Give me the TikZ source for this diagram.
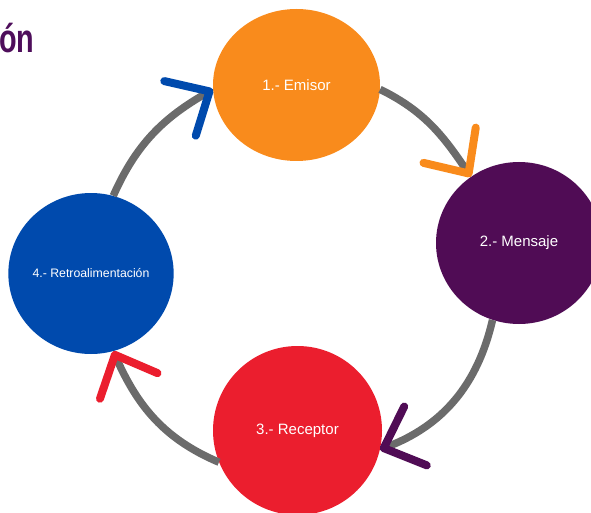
\documentclass[tikz,border=0pt]{standalone}
\usepackage{xcolor}
\usepackage{fontspec}
\setmainfont{Liberation Sans}
\usepackage{tikz}
\usetikzlibrary{arrows.meta}
\usetikzlibrary{shapes.geometric}
\usetikzlibrary{positioning}

\definecolor{emisorC}{HTML}{F98B1C}
\definecolor{mensajeC}{HTML}{500C55}
\definecolor{receptorC}{HTML}{EB1E2E}
\definecolor{retroC}{HTML}{004AAD}
\definecolor{ringC}{HTML}{6B6B6B}
\definecolor{tituloC}{HTML}{4E0E5B}

\tikzset{
  stage/.style={ellipse, draw=none, inner sep=0pt, text=white, font=\fontsize{15}{18}\selectfont},
  ring/.style={draw=ringC, line width=7.5pt},
  chev/.style={-{Straight Barb[color=#1, length=34pt, width=63pt, line width=8pt, round]}}
}

\begin{document}
\begin{tikzpicture}[x=1pt, y=1pt]
\useasboundingbox (0,0) rectangle (591,-513);
% title, cut at the left edge
\node [anchor=base west, inner sep=0pt, text=tituloC, font=\bfseries\fontsize{40}{44}\selectfont, xscale=0.72, transform shape] (titulo) at (-1,-53) {ón};
% the four stages
\node [stage, fill=emisorC, minimum width=167pt, minimum height=152pt] (E) at (296.5,-85) {1.- Emisor};
\node [stage, fill=mensajeC, minimum width=166pt, minimum height=162pt] (M) at (519,-243) {2.- Mensaje};
\node [stage, fill=receptorC, minimum width=169pt, minimum height=169pt] (R) at (297.5,-430.5) {3.- Receptor};
\node [stage, fill=retroC, minimum width=164pt, minimum height=161pt, font=\fontsize{12.3}{14}\selectfont] (F) at (91,-273.5) {4.- Retroalimentación};
% the cycle
\draw [ring, chev=retroC] (F.74) to [out=66, in=210] (E.183);
\draw [ring, chev=emisorC] (E.357) to [out=334, in=124] (M.126);
\draw [ring, chev=mensajeC] (M.251) to [out=257, in=21] (R.347);
\draw [ring, chev=receptorC] (R.202) to [out=157, in=294] (F.286);
\end{tikzpicture}
\end{document}
